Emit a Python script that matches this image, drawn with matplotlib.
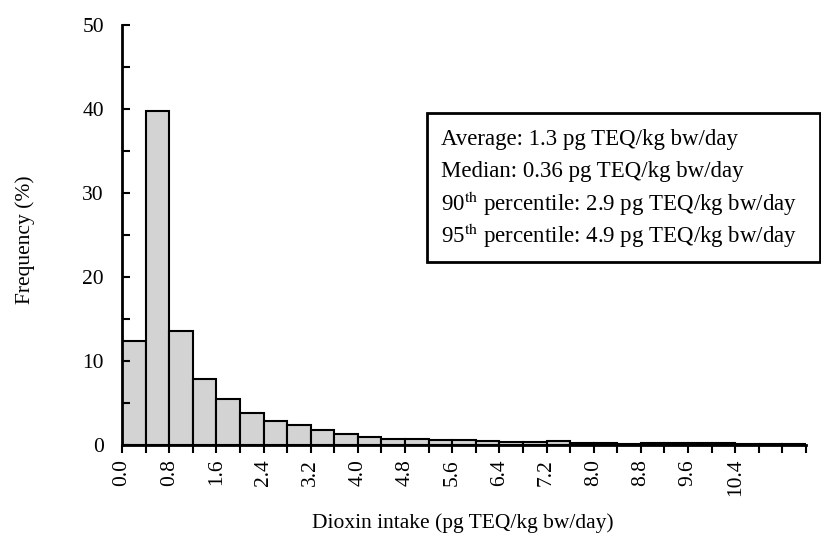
import matplotlib
matplotlib.use("Agg")
import matplotlib.pyplot as plt
from matplotlib.patches import Rectangle
import numpy as np

plt.rcParams['font.family'] = ['Liberation Serif', 'DejaVu Serif']
plt.rcParams['mathtext.fontset'] = 'stix'

bin_width = 0.4
bin_starts = [0.0, 0.4, 0.8, 1.2, 1.6, 2.0, 2.4, 2.8, 3.2, 3.6, 4.0, 4.4, 4.8, 5.2, 5.6,
              6.0, 6.4, 6.8, 7.2, 7.6, 8.0, 8.4, 8.8, 9.2, 9.6, 10.0, 10.4, 10.8, 11.2]
frequency = [12.4, 39.8, 13.6, 7.9, 5.5, 3.8, 2.9, 2.4, 1.8, 1.35, 1.0, 0.75, 0.7, 0.65, 0.6,
             0.5, 0.4, 0.35, 0.45, 0.2, 0.2, 0.15, 0.2, 0.2, 0.2, 0.2, 0.1, 0.1, 0.1]
tick_labels = ["0.0", "0.8", "1.6", "2.4", "3.2", "4.0", "4.8", "5.6", "6.4", "7.2",
               "8.0", "8.8", "9.6", "10.4"]
stats_lines = [
    "Average: 1.3 pg TEQ/kg bw/day",
    "Median: 0.36 pg TEQ/kg bw/day",
    r"90$^{\mathrm{th}}$ percentile: 2.9 pg TEQ/kg bw/day",
    r"95$^{\mathrm{th}}$ percentile: 4.9 pg TEQ/kg bw/day",
]

fig = plt.figure(figsize=(8.21, 5.49), dpi=100)
ax = fig.add_axes([122/821, 1-445/549, (806-122)/821, (445-25)/549])

ax.bar(bin_starts, frequency, width=bin_width, align='edge',
       color='#d3d3d3', edgecolor='black', linewidth=1.5)

ax.set_xlim(0, 11.6)
ax.set_ylim(0, 50)

for s in ['top', 'right']:
    ax.spines[s].set_visible(False)
for s in ['left', 'bottom']:
    ax.spines[s].set_linewidth(2)

edges = np.arange(0, 11.61, 0.4)
ax.set_xticks(edges)
label_map = {float(t): t for t in tick_labels}
ax.set_xticklabels([label_map.get(round(v, 1), "") for v in edges], rotation=90, fontsize=15.5)
ax.tick_params(axis='x', direction='out', length=6, width=1.5, pad=4)

ax.set_yticks([0, 10, 20, 30, 40, 50])
ax.set_yticks(np.arange(5, 50, 10), minor=True)
ax.tick_params(axis='y', which='both', direction='in', length=6, width=1.5,
               labelsize=15.5, pad=13)

fig.text(25/821, 1-240/549, "Frequency (%)", fontsize=15.5, rotation=90,
         ha='center', va='center')
fig.text(463/821, 1-523/549, "Dioxin intake (pg TEQ/kg bw/day)", fontsize=15.5,
         ha='center', va='center')

# statistics box
x0, y0, x1, y1 = 427/821, 1-262/549, 820/821, 1-113/549
fig.patches.append(Rectangle((x0, y0), x1-x0, y1-y0, transform=fig.transFigure,
                             facecolor='white', edgecolor='black', linewidth=2, zorder=5))
line_y = [140, 172, 204, 236]
for txt, yy in zip(stats_lines, line_y):
    fig.text(441/821, 1-yy/549, txt, fontsize=16.5, va='center', ha='left', zorder=6)

fig.savefig("out.png", dpi=100)
